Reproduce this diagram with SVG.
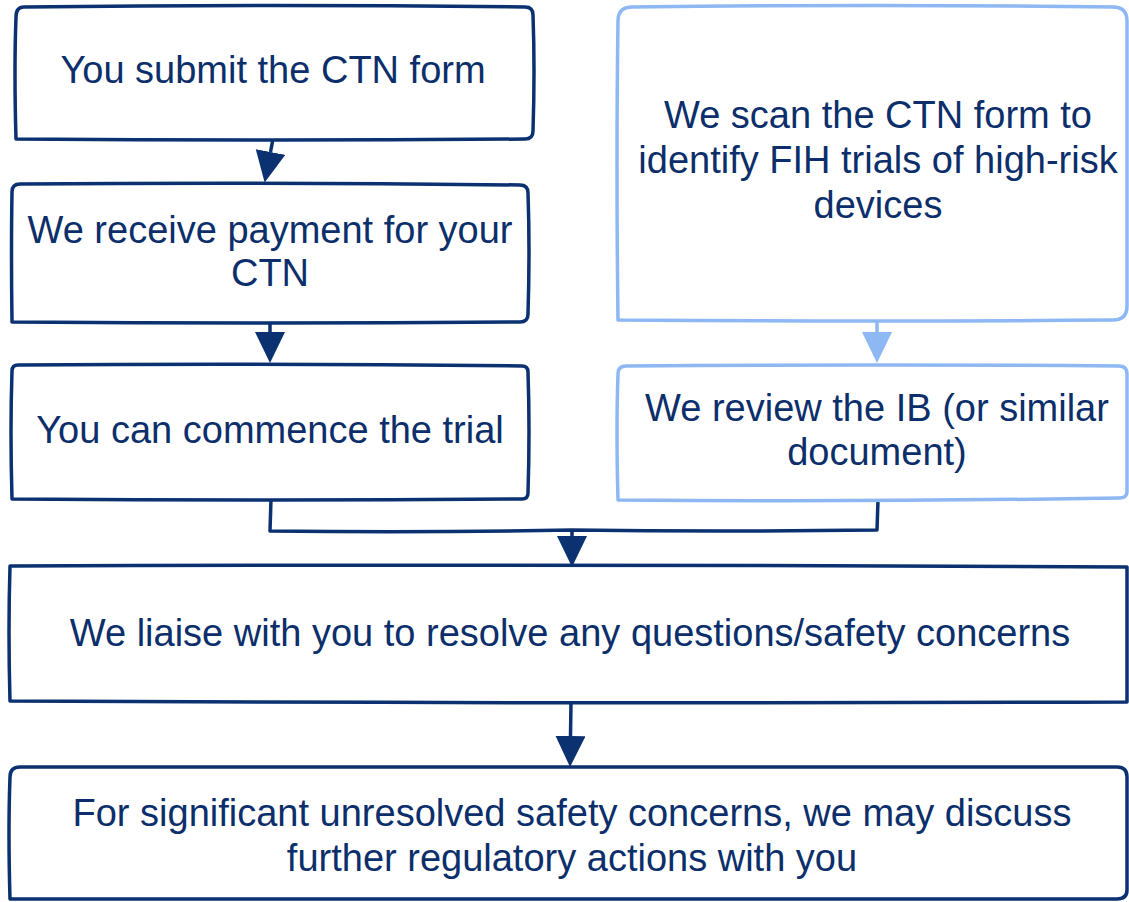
<svg xmlns="http://www.w3.org/2000/svg" width="1129" height="902" viewBox="0 0 1129 902">
<style>
.box{fill:#fff;stroke:#0B3170;stroke-width:3.5;stroke-linejoin:round}
.lbox{fill:#fff;stroke:#8DB8F3;stroke-width:3.5;stroke-linejoin:round}
.t{font-family:"Liberation Sans",Arial,sans-serif;font-size:38px;fill:#0C2F6B;text-anchor:middle}
.c{fill:none;stroke:#0B3170;stroke-width:3.5;stroke-linejoin:round}
.lc{fill:none;stroke:#8DB8F3;stroke-width:3.5}
</style>
<defs>
<marker id="ah" markerUnits="userSpaceOnUse" markerWidth="34" markerHeight="34" refX="0" refY="15" orient="auto" viewBox="0 0 34 34">
<path d="M0,0 L31,15 L0,30 Z" fill="#0B3170"/>
</marker>
<marker id="lah" markerUnits="userSpaceOnUse" markerWidth="34" markerHeight="34" refX="0" refY="15" orient="auto" viewBox="0 0 34 34">
<path d="M0,0 L31,15 L0,30 Z" fill="#8DB8F3"/>
</marker>
</defs>
<g id="connectors">
<path class="c" d="M273,139 L270.5,152" marker-end="url(#ah)"/>
<path class="c" d="M270,322 L270,332" marker-end="url(#ah)"/>
<path class="lc" d="M877,320 L877,332" marker-end="url(#lah)"/>
<path class="c" d="M271,499 L270,531 Q420,533 572,530 Q720,532 877,530 L878,500"/>
<path class="c" d="M572,531 L572,536" marker-end="url(#ah)"/>
<path class="c" d="M571,702 L570.5,736" marker-end="url(#ah)"/>
</g>
<g id="n1">
<path class="box" d="M24,7 Q270,4 525,7 Q533,7 533,15 Q535,70 533,131 Q533,139 525,139 Q270,141 16,139 Q14,70 16,17 Q16,7 24,7 Z"/>
<text class="t" x="273" y="83">You submit the CTN form</text>
</g>
<g id="n2">
<path class="box" d="M20,184 Q270,182 520,185 Q528,185 528,193 Q530,250 528,314 Q528,322 520,322 Q270,324 12,322 Q11,250 12,192 Q12,184 20,184 Z"/>
<text class="t" x="270" y="243">We receive payment for your</text>
<text class="t" x="270" y="286">CTN</text>
</g>
<g id="n3">
<path class="box" d="M18,365 Q270,363 522,366 Q528,366 528,372 Q530,430 528,493 Q528,499 522,499 Q270,501 12,499 Q10,430 12,371 Q12,365 18,365 Z"/>
<text class="t" x="270" y="443">You can commence the trial</text>
</g>
<g id="n4">
<path class="lbox" d="M632,7 Q880,4 1113,7 Q1127,7 1127,21 L1127,306 Q1127,320 1113,320 Q870,322 618,320 Q616,160 618,21 Q618,7 632,7 Z"/>
<text class="t" x="878" y="128">We scan the CTN form to</text>
<text class="t" x="878" y="173">identify FIH trials of high-risk</text>
<text class="t" x="878" y="218">devices</text>
</g>
<g id="n5">
<path class="lbox" d="M626,366 Q880,364 1119,366 Q1127,366 1127,374 L1127,492 Q1127,498 1119,498 Q870,502 618,500 Q616,430 618,374 Q618,366 626,366 Z"/>
<text class="t" x="877" y="421">We review the IB (or similar</text>
<text class="t" x="877" y="465">document)</text>
</g>
<g id="n6">
<path class="box" d="M12,566 Q570,564 1127,567 L1127,702 Q570,704 10,701 Q8,630 10,566 Z"/>
<text class="t" x="570" y="646">We liaise with you to resolve any questions/safety concerns</text>
</g>
<g id="n7">
<path class="box" d="M20,767 Q570,765 1117,767 Q1127,767 1127,777 L1127,890 Q1127,899 1117,899 Q570,901 10,899 Q8,830 10,777 Q10,767 20,767 Z"/>
<text class="t" x="572" y="826">For significant unresolved safety concerns, we may discuss</text>
<text class="t" x="572" y="871">further regulatory actions with you</text>
</g>
</svg>
